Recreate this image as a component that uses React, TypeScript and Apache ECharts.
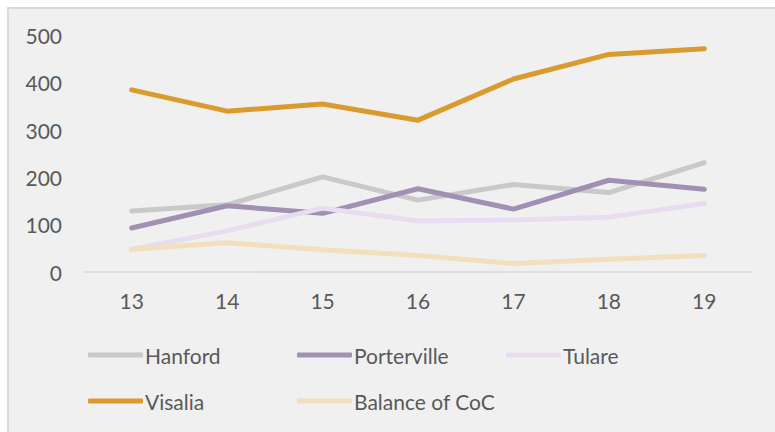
import React, { useEffect, useRef } from "react";
import * as echarts from "echarts";

const categories = ["13", "14", "15", "16", "17", "18", "19"];
const hanford = [129, 142, 201, 152, 185, 168, 231];
const porterville = [93, 140, 124, 176, 133, 194, 175];
const tulare = [48, 87, 135, 108, 110, 116, 145];
const visalia = [385, 340, 355, 321, 408, 460, 472];
const balanceOfCoC = [48, 62, 47, 35, 18, 27, 35];

const seriesNames = ["Hanford", "Porterville", "Tulare", "Visalia", "Balance of CoC"];
const seriesData = [hanford, porterville, tulare, visalia, balanceOfCoC];
const seriesColors = ["#c9c9c9", "#a190b1", "#e8ddf0", "#da9b2e", "#f2dfbd"];

const FONT = "Lato, 'Open Sans', sans-serif";
const TEXT_COLOR = "#595959";

export default function App() {
  const ref = useRef<HTMLDivElement>(null);
  useEffect(() => {
    if (!ref.current) return;
    const chart = echarts.init(ref.current, undefined, { renderer: "svg" });
    const legendPos = [
      { left: 79, top: 335 },
      { left: 288, top: 335 },
      { left: 497, top: 335 },
      { left: 79, top: 381 },
      { left: 288, top: 381 },
    ];
    chart.setOption({
      animation: false,
      backgroundColor: "#f0f0f0",
      grid: { left: 75, right: 23, top: 26.5, bottom: 160, containLabel: false },
      legend: seriesNames.map((n, i) => ({
        data: [{ name: n, icon: "roundRect", itemStyle: { color: seriesColors[i] } }],
        left: legendPos[i].left,
        top: legendPos[i].top,
        padding: 0,
        itemWidth: 55,
        itemHeight: 5,
        textStyle: { color: TEXT_COLOR, fontSize: 21, fontFamily: FONT, lineHeight: 22, padding: [0, 0, 0, -3] },
      })),
      xAxis: {
        type: "category",
        data: categories,
        boundaryGap: true,
        axisLine: { show: true, lineStyle: { color: "#d9d9d9", width: 1.5 } },
        axisTick: { show: false },
        axisLabel: { color: TEXT_COLOR, fontSize: 21, fontFamily: FONT, margin: 18 },
      },
      yAxis: {
        type: "value",
        min: 0,
        max: 500,
        interval: 100,
        axisLine: { show: false },
        axisTick: { show: false },
        splitLine: { show: false },
        axisLabel: { color: TEXT_COLOR, fontSize: 21, fontFamily: FONT, margin: 22 },
      },
      series: seriesNames.map((n, i) => ({
        name: n,
        type: "line",
        data: seriesData[i],
        symbol: "none",
        showSymbol: false,
        color: seriesColors[i],
        lineStyle: { color: seriesColors[i], width: 5, cap: "round", join: "round" },
        z: 2 + i,
      })),
    });
    return () => chart.dispose();
  }, []);
  return (
    <div
      style={{
        position: "absolute",
        left: 7,
        top: 7,
        width: 766,
        height: 423,
        borderLeft: "2px solid #d9d9d9",
        borderTop: "2px solid #d9d9d9",
        background: "#f0f0f0",
      }}
    >
      <div ref={ref} style={{ width: 766, height: 423 }} />
    </div>
  );
}
